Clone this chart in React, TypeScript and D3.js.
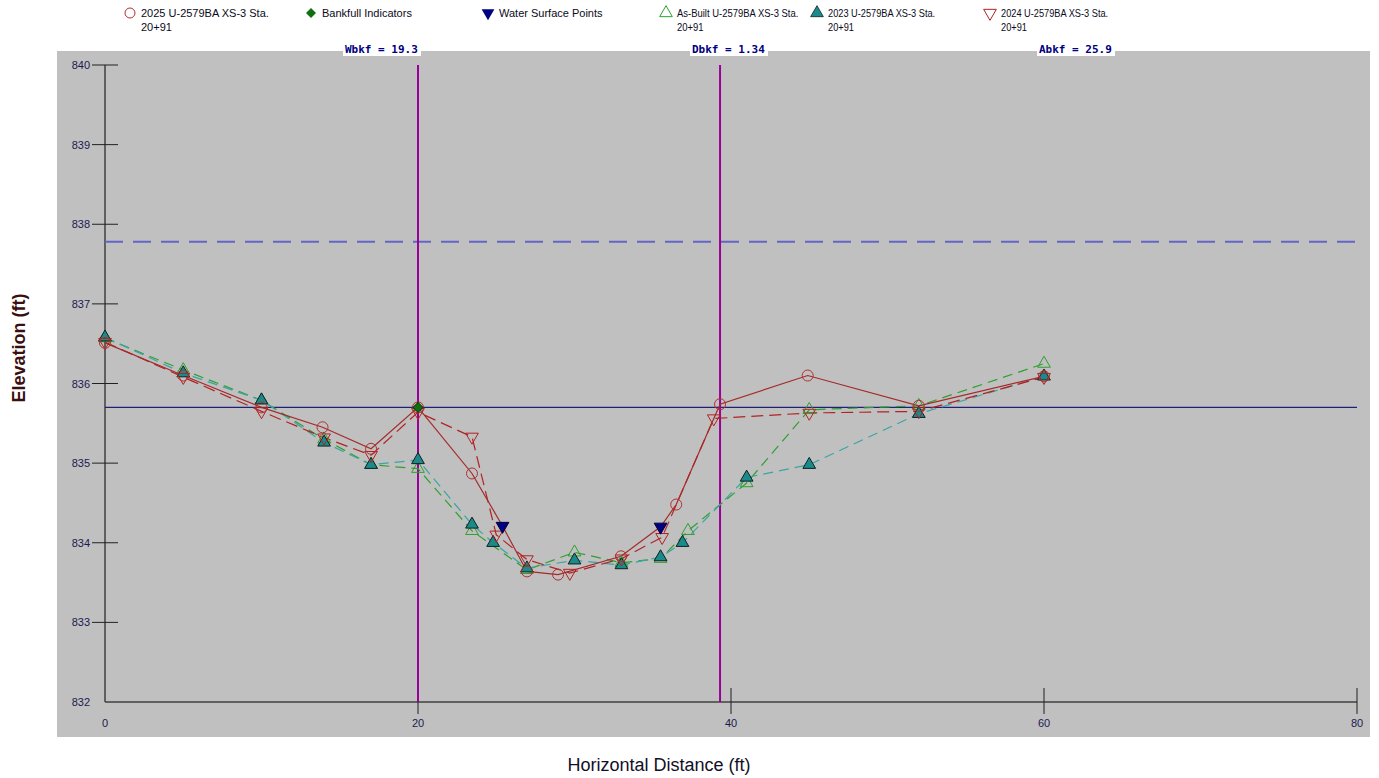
import React, { useEffect, useRef } from 'react'
import * as d3 from 'd3'

// cross-section survey data (station ft, elevation ft)
const x2025 = [0, 5, 10, 13.9, 17, 20, 23.45, 25.4, 26.96, 28.95, 32.97, 35.5, 36.5, 39.3, 44.9, 52, 60]
const y2025 = [836.51, 836.1, 835.7, 835.45, 835.18, 835.7, 834.87, 834.21, 833.64, 833.6, 833.83, 834.2, 834.48, 835.74, 836.1, 835.72, 836.09]

const x2024 = [0, 5, 10, 14, 17, 20, 23.45, 25, 26.96, 29.7, 33, 35.6, 38.9, 45, 52, 60]
const y2024 = [836.52, 836.08, 835.65, 835.32, 835.1, 835.64, 835.33, 834.1, 833.79, 833.62, 833.8, 834.07, 835.56, 835.63, 835.65, 836.08]

const x2023 = [0, 5, 10, 14, 17, 20, 23.45, 24.8, 26.96, 30, 33, 35.5, 36.9, 41, 45, 52, 60]
const y2023 = [836.58, 836.13, 835.79, 835.26, 834.98, 835.04, 834.23, 834.0, 833.68, 833.78, 833.72, 833.82, 834.0, 834.82, 834.98, 835.62, 836.09]

const xAsBuilt = [0, 5, 10, 14, 17, 20, 23.45, 26.96, 30, 33, 35.5, 37.25, 41, 45, 52, 60]
const yAsBuilt = [836.57, 836.17, 835.79, 835.3, 834.98, 834.93, 834.15, 833.66, 833.88, 833.75, 833.8, 834.15, 834.75, 835.67, 835.72, 836.25]

const xBankfull = [20]
const yBankfull = [835.7]

const xWater = [25.4, 35.5]
const yWater = [834.21, 834.2]

const bankfullElev = 835.7
const floodElev = 837.78
const bankLeft = 20
const bankRight = 39.3

const xTicks = [0, 20, 40, 60, 80]
const yTicks = [832, 833, 834, 835, 836, 837, 838, 839, 840]

const topLabels = ['Wbkf = 19.3', 'Dbkf = 1.34', 'Abkf = 25.9']

const legendNames = [
  ['2025 U-2579BA XS-3 Sta.', '20+91'],
  ['Bankfull Indicators'],
  ['Water Surface Points'],
  ['As-Built U-2579BA XS-3 Sta.', '20+91'],
  ['2023 U-2579BA XS-3 Sta.', '20+91'],
  ['2024 U-2579BA XS-3 Sta.', '20+91'],
]

const zip = (xs: number[], ys: number[]) => xs.map((x, i) => [x, ys[i]] as [number, number])

export default function App() {
  const svgRef = useRef<SVGSVGElement>(null)

  useEffect(() => {
    if (!svgRef.current) return
    const svg = d3.select(svgRef.current)
    svg.selectAll('*').remove()

    const width = 1379
    const height = 778
    const left = 105
    const right = 1357
    const top = 65
    const bottom = 702

    const x = d3.scaleLinear().domain([0, 80]).range([left, right])
    const y = d3.scaleLinear().domain([832, 840]).range([bottom, top])

    svg.append('rect').attr('width', width).attr('height', height).attr('fill', 'white')
    svg.append('rect').attr('x', 57).attr('y', 51).attr('width', 1313).attr('height', 686).attr('fill', '#c0c0c0')

    const font = '"Liberation Sans", Arial, sans-serif'

    // axes
    svg.append('line').attr('x1', left).attr('x2', left).attr('y1', top).attr('y2', bottom)
      .attr('stroke', '#404040').attr('stroke-width', 1.5)
    svg.append('line').attr('x1', left).attr('x2', right).attr('y1', bottom).attr('y2', bottom)
      .attr('stroke', '#404040').attr('stroke-width', 1.5)

    yTicks.forEach((t) => {
      if (t !== 832) {
        svg.append('line').attr('x1', 92).attr('x2', 118).attr('y1', y(t)).attr('y2', y(t))
          .attr('stroke', '#202020').attr('stroke-width', 1)
      }
      svg.append('text').attr('x', 90).attr('y', y(t) + 4).attr('text-anchor', 'end')
        .style('font-family', font).style('font-size', '11px').attr('fill', '#1a1a50').text(t)
    })
    xTicks.forEach((t) => {
      if (t !== 0) {
        svg.append('line').attr('x1', x(t)).attr('x2', x(t)).attr('y1', 688).attr('y2', 714)
          .attr('stroke', '#202020').attr('stroke-width', 1)
      }
      svg.append('text').attr('x', x(t)).attr('y', 727).attr('text-anchor', 'middle')
        .style('font-family', font).style('font-size', '11px').attr('fill', '#1a1a50').text(t)
    })

    // reference lines
    svg.append('line').attr('x1', left).attr('x2', right).attr('y1', y(floodElev)).attr('y2', y(floodElev))
      .attr('stroke', '#6464c8').attr('stroke-width', 2).attr('stroke-dasharray', '18,10')
    svg.append('line').attr('x1', left).attr('x2', right).attr('y1', y(bankfullElev)).attr('y2', y(bankfullElev))
      .attr('stroke', '#20207a').attr('stroke-width', 1.2)
    ;[bankLeft, bankRight].forEach((b) => {
      svg.append('line').attr('x1', x(b)).attr('x2', x(b)).attr('y1', top).attr('y2', bottom)
        .attr('stroke', '#990099').attr('stroke-width', 2)
    })

    // top labels
    const labelX = [343, 690, 1037]
    topLabels.forEach((t, i) => {
      svg.append('rect').attr('x', labelX[i]).attr('y', 42).attr('width', 78).attr('height', 14).attr('fill', 'white')
      svg.append('text').attr('x', labelX[i] + 2).attr('y', 53)
        .style('font-family', '"DejaVu Sans Mono", monospace').style('font-size', '11px').style('font-weight', 'bold')
        .attr('fill', '#000080').text(t)
    })

    const line = d3.line<[number, number]>().x((d) => x(d[0])).y((d) => y(d[1]))

    const series = [
      { data: zip(xAsBuilt, yAsBuilt), color: '#2ea02e', dash: '10,6', w: 1.2 },
      { data: zip(x2023, y2023), color: '#3aa5a5', dash: '10,6', w: 1.2 },
      { data: zip(x2024, y2024), color: '#b22222', dash: '12,6', w: 1.2 },
      { data: zip(x2025, y2025), color: '#a52a2a', dash: null, w: 1.2 },
    ]
    series.forEach((s) => {
      const p = svg.append('path').attr('d', line(s.data)).attr('fill', 'none')
        .attr('stroke', s.color).attr('stroke-width', s.w)
      if (s.dash) p.attr('stroke-dasharray', s.dash)
    })

    const tri = d3.symbol().type(d3.symbolTriangle).size(70)()
    const dia = d3.symbol().type(d3.symbolSquare).size(50)()

    const g = svg.append('g')
    const drawMarks = (pts: [number, number][], kind: string) => {
      pts.forEach(([px, py]) => {
        const cx = x(px)
        const cy = y(py)
        if (kind === 'circle') {
          g.append('circle').attr('cx', cx).attr('cy', cy).attr('r', 5.5)
            .attr('fill', 'none').attr('stroke', '#b03030').attr('stroke-width', 1)
        } else if (kind === 'asbuilt') {
          g.append('path').attr('d', tri).attr('transform', `translate(${cx},${cy})`)
            .attr('fill', 'none').attr('stroke', '#2ea02e').attr('stroke-width', 1)
        } else if (kind === 'y2023') {
          g.append('path').attr('d', tri).attr('transform', `translate(${cx},${cy})`)
            .attr('fill', '#1a8a8a').attr('stroke', '#102020').attr('stroke-width', 1)
        } else if (kind === 'y2024') {
          g.append('path').attr('d', tri).attr('transform', `translate(${cx},${cy}) rotate(180)`)
            .attr('fill', 'none').attr('stroke', '#b22222').attr('stroke-width', 1)
        } else if (kind === 'bankfull') {
          g.append('path').attr('d', dia).attr('transform', `translate(${cx},${cy}) rotate(45)`)
            .attr('fill', '#107010').attr('stroke', '#0a400a').attr('stroke-width', 1)
        } else if (kind === 'water') {
          g.append('path').attr('d', tri).attr('transform', `translate(${cx},${cy}) rotate(180)`)
            .attr('fill', '#000080').attr('stroke', '#000040').attr('stroke-width', 1)
        }
      })
    }
    drawMarks(zip(xAsBuilt, yAsBuilt), 'asbuilt')
    drawMarks(zip(x2023, y2023), 'y2023')
    drawMarks(zip(x2024, y2024), 'y2024')
    drawMarks(zip(x2025, y2025).filter(([px]) => !xWater.includes(px)), 'circle')
    drawMarks(zip(xBankfull, yBankfull), 'bankfull')
    drawMarks(zip(xWater, yWater), 'water')

    // legend
    const legX = [130, 311, 488, 666, 817, 990]
    const legKinds = ['circle', 'bankfull', 'water', 'asbuilt', 'y2023', 'y2024']
    const legSquash = [1, 1, 1, 0.86, 0.84, 0.84]
    legKinds.forEach((k, i) => {
      const cx = legX[i]
      const cy = 13
      if (k === 'circle') {
        svg.append('circle').attr('cx', cx).attr('cy', cy).attr('r', 5)
          .attr('fill', 'none').attr('stroke', '#b03030').attr('stroke-width', 1)
      } else if (k === 'bankfull') {
        svg.append('path').attr('d', dia).attr('transform', `translate(${cx},${cy}) rotate(45)`).attr('fill', '#107010')
      } else if (k === 'water') {
        svg.append('path').attr('d', tri).attr('transform', `translate(${cx},${cy}) rotate(180)`).attr('fill', '#000080')
      } else if (k === 'asbuilt') {
        svg.append('path').attr('d', tri).attr('transform', `translate(${cx},${cy})`)
          .attr('fill', 'none').attr('stroke', '#2ea02e').attr('stroke-width', 1)
      } else if (k === 'y2023') {
        svg.append('path').attr('d', tri).attr('transform', `translate(${cx},${cy})`)
          .attr('fill', '#1a8a8a').attr('stroke', '#102020').attr('stroke-width', 0.8)
      } else {
        svg.append('path').attr('d', tri).attr('transform', `translate(${cx},${cy}) rotate(180)`)
          .attr('fill', 'none').attr('stroke', '#b22222').attr('stroke-width', 1)
      }
      const lg = svg.append('g').attr('transform', `translate(${cx + 11},0) scale(${legSquash[i]},1)`)
      legendNames[i].forEach((ln, j) => {
        lg.append('text').attr('x', 0).attr('y', 17 + j * 14)
          .style('font-family', font).style('font-size', '11px').attr('fill', '#0a0a20').text(ln)
      })
    })

    // axis titles
    svg.append('text').attr('transform', `translate(25,${348}) rotate(-90)`).attr('text-anchor', 'middle')
      .style('font-family', font).style('font-size', '18px').style('font-weight', 'bold')
      .attr('fill', '#3a0f0f').text('Elevation (ft)')
    svg.append('text').attr('x', 659).attr('y', 771).attr('text-anchor', 'middle')
      .style('font-family', font).style('font-size', '18px')
      .attr('fill', '#101028').text('Horizontal Distance (ft)')
  }, [])

  return (
    <svg
      ref={svgRef}
      width={1379}
      height={778}
      style={{ position: 'absolute', left: 0, top: 0, display: 'block' }}
    />
  )
}
